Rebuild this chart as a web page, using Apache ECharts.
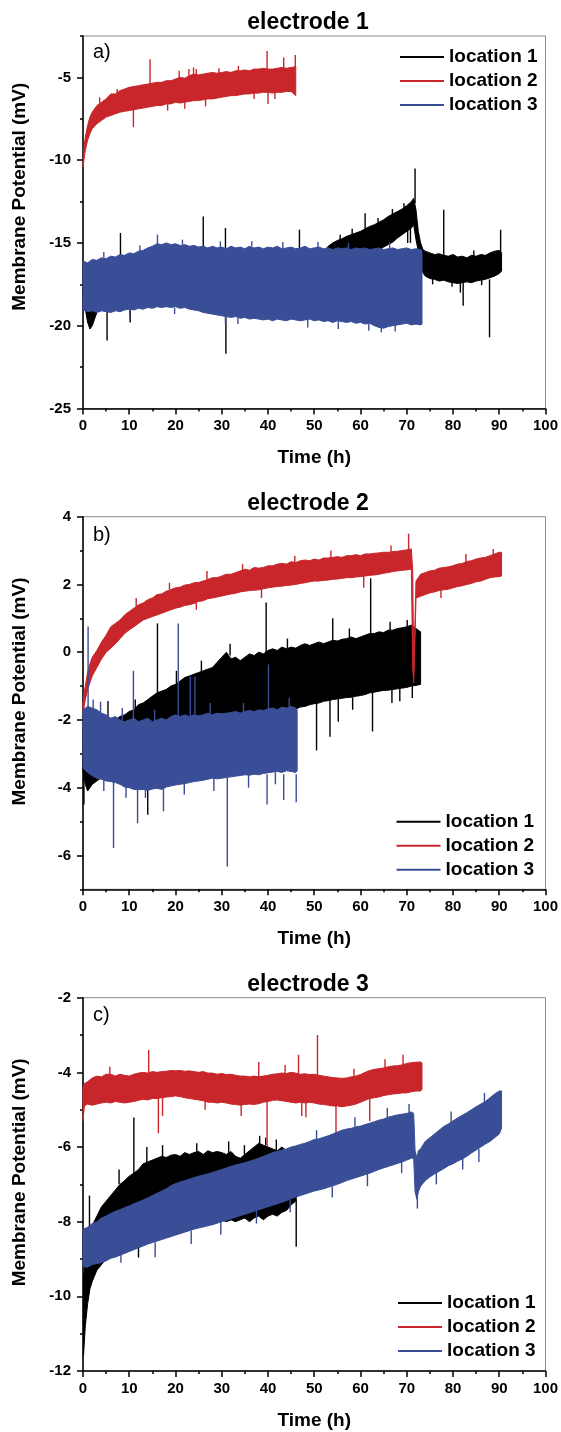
<!DOCTYPE html>
<html><head><meta charset="utf-8">
<script src="https://cdn.jsdelivr.net/npm/echarts@6/dist/echarts.min.js"></script>
<style>html,body{margin:0;padding:0;background:#fff}#c{width:561px;height:1432px}</style>
</head><body><div id="c"></div>
<script>
// ---------- DATA: each band is [time h, upper envelope mV, lower envelope mV] ----------
// spikes: [time h, base mV, tip mV]
const seriesNames = ['location 1', 'location 2', 'location 3'];
const panelTitles = ['electrode 1', 'electrode 2', 'electrode 3'];
const panelLetters = ['a)', 'b)', 'c)'];
const xTicks = [0, 10, 20, 30, 40, 50, 60, 70, 80, 90, 100];
const yRangeA = [-25, -2.5], yMajorA = [-25, -20, -15, -10, -5], yMinorA = [-22.5, -17.5, -12.5, -7.5, -2.5];
const yRangeB = [-7, 4], yMajorB = [-6, -4, -2, 0, 2, 4], yMinorB = [-7, -5, -3, -1, 1, 3];
const yRangeC = [-12, -2], yMajorC = [-12, -10, -8, -6, -4, -2], yMinorC = [-11, -9, -7, -5, -3];

// Panel a
const a1 = [[0,-17.5,-18.3],[0.5,-17.8,-19.0],[1,-18.0,-19.8],[1.5,-18.2,-20.2],[2,-18.0,-20.0],[2.5,-17.8,-19.6],[3,-17.5,-19.2],[4,-17.0,-18.9],[6,-16.8,-18.8],[8,-16.7,-18.8],[10,-16.7,-18.7],[15,-16.6,-18.6],[20,-16.5,-18.6],[25,-16.5,-18.7],[30,-16.5,-18.8],[35,-16.4,-18.8],[40,-16.3,-18.8],[45,-16.2,-18.8],[50,-16.0,-18.6],[52,-15.6,-17.5],[53,-15.2,-16.8],[54,-15.0,-16.6],[55,-14.85,-16.5],[56,-14.75,-16.4],[57,-14.6,-16.3],[58,-14.5,-16.2],[59,-14.4,-16.1],[60,-14.3,-16.0],[61,-14.15,-15.9],[62,-14.0,-15.7],[63,-13.9,-15.6],[64,-13.75,-15.45],[65,-13.6,-15.25],[66,-13.4,-15.1],[67,-13.25,-14.95],[68,-13.1,-14.7],[69,-12.95,-14.5],[70,-12.75,-14.3],[71,-12.5,-14.1],[71.5,-12.3,-13.9],[72,-13.0,-14.8],[72.5,-14.3,-15.5],[73,-15.0,-16.3],[73.5,-15.4,-16.8],[74,-15.5,-17.0],[75,-15.6,-17.15],[76,-15.7,-17.2],[77,-15.65,-17.3],[78,-15.75,-17.25],[79,-15.8,-17.35],[80,-15.7,-17.4],[81,-15.85,-17.45],[82,-15.8,-17.4],[83,-15.9,-17.35],[84,-15.75,-17.4],[85,-15.8,-17.3],[86,-15.7,-17.25],[87,-15.75,-17.2],[88,-15.6,-17.1],[89,-15.5,-17.0],[90,-15.45,-16.85],[90.5,-15.6,-16.7]];
const a1Spikes = [[5.2,-18.6,-20.9],[8.1,-16.8,-14.4],[10.2,-18.6,-19.8],[26,-16.6,-13.4],[30.8,-16.6,-14.1],[30.9,-18.6,-21.7],[46.8,-16.4,-14.2],[55.6,-14.8,-14.5],[58.2,-14.5,-14.15],[61,-14.5,-13.2],[63.8,-13.8,-13.5],[66.9,-13.3,-12.95],[69.4,-12.9,-12.6],[70.2,-14.0,-15.0],[70.8,-14.0,-15.0],[71.8,-12.6,-10.5],[75.6,-17.1,-17.5],[78,-15.9,-13.0],[79.8,-17.3,-17.65],[81.6,-17.2,-18.0],[82.2,-17.2,-18.8],[84.5,-15.8,-15.45],[86.2,-17.2,-17.55],[87.9,-17.2,-20.7],[90.3,-15.8,-14.2]];
const a2 = [[0,-10.0,-10.4],[0.25,-9.2,-9.9],[0.5,-8.6,-9.4],[1,-7.9,-8.8],[1.5,-7.4,-8.4],[2,-7.1,-8.1],[3,-6.7,-7.8],[4,-6.5,-7.6],[5,-6.3,-7.4],[6,-6.0,-7.3],[7,-6.0,-7.2],[8,-5.8,-7.1],[9,-5.7,-7.05],[10,-5.6,-7.0],[11,-5.55,-6.95],[12,-5.5,-6.9],[13,-5.45,-6.85],[14,-5.4,-6.8],[15,-5.35,-6.75],[16,-5.3,-6.7],[17,-5.3,-6.7],[18,-5.2,-6.6],[19,-5.2,-6.6],[20,-5.1,-6.5],[21,-5.0,-6.55],[22,-5.05,-6.5],[23,-4.9,-6.45],[24,-4.8,-6.4],[25,-4.85,-6.4],[26,-4.8,-6.35],[27,-4.75,-6.3],[28,-4.7,-6.3],[29,-4.75,-6.25],[30,-4.7,-6.2],[31,-4.65,-6.15],[32,-4.7,-6.1],[33,-4.6,-6.1],[34,-4.6,-6.05],[35,-4.55,-6.0],[36,-4.6,-6.0],[37,-4.5,-5.95],[38,-4.5,-5.95],[39,-4.45,-5.9],[40,-4.5,-5.9],[41,-4.5,-5.95],[42,-4.45,-5.9],[43,-4.4,-5.9],[44,-4.45,-5.85],[45,-4.4,-5.85],[46,-4.35,-6.1]];
const a2Spikes = [[3.6,-6.6,-6.2],[7.4,-6.0,-5.7],[10.9,-6.9,-8.0],[14.5,-5.5,-3.9],[18.3,-6.6,-7.0],[20.8,-5.1,-4.6],[22,-6.5,-6.9],[22.9,-5.0,-4.5],[23.9,-4.9,-4.4],[24.5,-4.9,-4.5],[26.5,-6.35,-6.75],[29.4,-4.75,-4.45],[33.6,-4.6,-4.3],[37,-5.95,-6.3],[39.8,-4.6,-3.4],[40.0,-5.8,-6.6],[41.5,-5.9,-6.3],[43.4,-4.5,-3.8],[45.9,-4.5,-3.65]];
const a3 = [[0,-16.1,-19.05],[1,-16.2,-19.15],[2,-16.0,-19.1],[3,-16.05,-19.2],[4,-15.9,-19.1],[5,-15.95,-19.15],[6,-15.8,-19.2],[7,-15.85,-19.1],[8,-15.7,-19.15],[9,-15.75,-19.05],[10,-15.6,-19.0],[11,-15.65,-19.05],[12,-15.5,-18.95],[13,-15.45,-19.0],[14,-15.3,-18.9],[15,-15.2,-18.95],[16,-15.05,-18.85],[17,-15.1,-18.9],[18,-15.0,-18.85],[19,-15.1,-18.9],[20,-15.05,-18.85],[21,-15.15,-18.95],[22,-15.1,-18.9],[23,-15.2,-19.0],[24,-15.15,-19.05],[25,-15.25,-19.1],[26,-15.2,-19.2],[27,-15.3,-19.25],[28,-15.2,-19.3],[29,-15.3,-19.35],[30,-15.25,-19.4],[31,-15.35,-19.45],[32,-15.2,-19.5],[33,-15.3,-19.45],[34,-15.25,-19.55],[35,-15.35,-19.5],[36,-15.2,-19.6],[37,-15.3,-19.55],[38,-15.25,-19.6],[39,-15.35,-19.65],[40,-15.25,-19.6],[41,-15.3,-19.7],[42,-15.2,-19.6],[43,-15.35,-19.65],[44,-15.3,-19.7],[45,-15.25,-19.6],[46,-15.35,-19.65],[47,-15.3,-19.7],[48,-15.2,-19.65],[49,-15.35,-19.6],[50,-15.3,-19.7],[51,-15.25,-19.65],[52,-15.35,-19.75],[53,-15.3,-19.7],[54,-15.4,-19.8],[55,-15.3,-19.7],[56,-15.35,-19.75],[57,-15.3,-19.8],[58,-15.4,-19.75],[59,-15.3,-19.85],[60,-15.35,-19.8],[61,-15.3,-19.9],[62,-15.4,-19.85],[63,-15.35,-20.0],[64,-15.3,-20.1],[65,-15.4,-20.15],[66,-15.35,-20.05],[67,-15.3,-20.0],[68,-15.4,-19.95],[69,-15.35,-19.9],[70,-15.3,-19.85],[71,-15.4,-19.95],[72,-15.35,-19.9],[73,-15.4,-19.95],[73.3,-15.5,-19.9]];
const a3Spikes = [[4.5,-15.9,-15.55],[10.1,-19.0,-19.5],[12.3,-15.5,-15.15],[16.1,-15.3,-14.5],[19.8,-18.9,-19.3],[21.5,-15.1,-14.8],[29.7,-15.3,-14.9],[30.8,-19.3,-19.9],[33.5,-19.5,-19.9],[36.5,-15.2,-14.9],[43.2,-15.3,-14.95],[48.6,-19.6,-20.1],[50.8,-15.3,-14.95],[55.2,-19.7,-20.2],[57.4,-15.3,-15.0],[61.8,-19.9,-20.3],[64.5,-19.9,-20.4],[66.3,-15.35,-14.95],[67.5,-20.0,-20.35]];

// Panel b
const b1 = [[0,-2.8,-3.5],[0.5,-2.8,-3.9],[1,-2.8,-4.1],[2,-2.7,-3.9],[3,-2.6,-3.8],[4,-2.5,-3.7],[5,-2.45,-3.6],[6,-2.3,-3.5],[7,-2.0,-3.4],[8,-1.9,-3.3],[9,-1.85,-3.2],[10,-1.75,-3.1],[11,-1.7,-3.0],[12,-1.55,-2.95],[13,-1.5,-2.9],[14,-1.4,-2.85],[15,-1.3,-2.8],[16,-1.2,-2.75],[17,-1.15,-2.7],[18,-1.1,-2.65],[19,-1.0,-2.6],[20,-0.95,-2.6],[21,-0.85,-2.55],[22,-0.75,-2.5],[23,-0.7,-2.45],[24,-0.65,-2.4],[25,-0.6,-2.4],[26,-0.55,-2.35],[27,-0.5,-2.3],[28,-0.45,-2.3],[29,-0.3,-2.25],[30,-0.15,-2.2],[31,0.0,-2.15],[32,-0.2,-2.1],[33,-0.15,-2.05],[34,-0.25,-2.0],[35,-0.15,-2.0],[36,-0.05,-1.95],[37,-0.1,-1.9],[38,0.0,-1.9],[39,-0.05,-1.85],[40,0.05,-1.85],[41,0.1,-1.8],[42,0.05,-1.8],[43,0.15,-1.75],[44,0.1,-1.75],[45,0.15,-1.7],[46,0.12,-1.68],[47,0.2,-1.62],[48,0.25,-1.6],[49,0.2,-1.55],[50,0.25,-1.52],[51,0.3,-1.5],[52,0.25,-1.45],[53,0.3,-1.43],[54,0.35,-1.4],[55,0.33,-1.38],[56,0.38,-1.36],[57,0.4,-1.34],[58,0.45,-1.33],[59,0.4,-1.3],[60,0.45,-1.28],[61,0.5,-1.25],[62,0.55,-1.2],[63,0.55,-1.18],[64,0.6,-1.15],[65,0.58,-1.13],[66,0.65,-1.12],[67,0.65,-1.1],[68,0.7,-1.08],[69,0.72,-1.06],[70,0.75,-1.04],[71,0.8,-1.0],[72,0.7,-0.98],[73,0.6,-0.95]];
const b1Spikes = [[0.2,-3.5,-4.5],[5.4,-2.5,-1.44],[11.3,-1.7,-1.4],[14,-2.8,-4.8],[16.1,-1.2,0.85],[20.2,-0.95,-0.55],[25.6,-0.6,-0.25],[31.8,-0.1,0.25],[39.6,-0.5,1.47],[44.2,0.1,0.4],[50.5,-1.4,-2.9],[53.4,-1.3,-2.5],[54,0,1.0],[55.2,-1.3,-2.05],[57.6,0.4,0.7],[58.3,-1.33,-1.7],[62.2,0,2.18],[62.6,-1.1,-2.34],[66.4,0.65,0.9],[66.8,-1.1,-1.5],[68.5,-1.08,-1.45],[70.1,0.75,0.95],[71.2,-0.9,-1.35]];
const b2 = [[0,-1.5,-1.8],[0.25,-1.2,-1.6],[0.5,-1.0,-1.4],[1,-0.6,-1.1],[1.5,-0.35,-0.9],[2,-0.15,-0.7],[3,0.05,-0.45],[4,0.3,-0.2],[5,0.5,0.0],[6,0.75,0.12],[7,0.85,0.25],[8,0.95,0.4],[9,1.1,0.55],[10,1.2,0.66],[11,1.3,0.75],[12,1.4,0.85],[13,1.45,0.95],[14,1.55,1.0],[15,1.6,1.05],[16,1.7,1.1],[17,1.72,1.15],[18,1.8,1.2],[19,1.85,1.25],[20,1.9,1.3],[21,1.92,1.33],[22,1.98,1.38],[23,2.0,1.4],[24,2.05,1.44],[25,2.06,1.5],[26,2.1,1.52],[27,2.15,1.58],[28,2.2,1.6],[29,2.2,1.63],[30,2.25,1.66],[31,2.3,1.69],[32,2.3,1.72],[33,2.35,1.74],[34,2.4,1.78],[35,2.45,1.8],[36,2.42,1.82],[37,2.5,1.83],[38,2.48,1.84],[39,2.5,1.87],[40,2.55,1.9],[41,2.55,1.92],[42,2.6,1.94],[43,2.62,1.95],[44,2.6,1.97],[45,2.67,1.98],[46,2.65,2.0],[47,2.7,2.03],[48,2.72,2.05],[49,2.7,2.08],[50,2.75,2.1],[51,2.72,2.1],[52,2.78,2.12],[53,2.78,2.13],[54,2.8,2.15],[55,2.82,2.16],[56,2.8,2.18],[57,2.85,2.2],[58,2.85,2.2],[59,2.88,2.22],[60,2.85,2.23],[61,2.9,2.25],[62,2.9,2.27],[63,2.92,2.28],[64,2.93,2.3],[65,2.95,2.33],[66,2.95,2.35],[67,2.97,2.38],[68,2.98,2.4],[69,3.0,2.42],[70,3.02,2.43],[71,3.05,2.45],[71.3,2.4,-0.5],[71.5,-0.6,-0.9],[71.8,1.0,0.5],[72,2.1,1.6],[73,2.3,1.65],[74,2.35,1.7],[75,2.4,1.75],[76,2.42,1.78],[77,2.48,1.82],[78,2.5,1.84],[79,2.52,1.86],[80,2.55,1.9],[81,2.6,1.94],[82,2.62,1.96],[83,2.68,2.0],[84,2.7,2.03],[85,2.75,2.08],[86,2.78,2.1],[87,2.8,2.15],[88,2.85,2.2],[89,2.9,2.22],[90,2.95,2.23],[90.5,2.95,2.25]];
const b2Spikes = [[11.5,1.35,1.6],[18.7,1.85,2.05],[24.5,1.45,1.25],[26.8,2.15,2.4],[34.5,2.4,2.6],[38.6,1.85,1.6],[45.8,2.65,2.85],[53.6,2.8,3.0],[60.7,2.3,1.9],[66.6,2.97,3.15],[70.4,3.0,3.5],[77.4,1.82,1.6],[82.8,2.65,2.9],[88.7,2.88,3.05]];
const b3 = [[0,-1.7,-3.42],[1,-1.6,-3.55],[2,-1.65,-3.65],[3,-1.7,-3.72],[4,-1.8,-3.75],[5,-1.85,-3.8],[6,-1.95,-3.82],[7,-1.9,-3.85],[8,-2.0,-3.9],[9,-2.05,-3.98],[10,-2.0,-4.0],[11,-1.95,-4.05],[12,-2.05,-4.06],[13,-2.0,-4.05],[14,-1.95,-4.08],[15,-2.05,-4.04],[16,-2.0,-4.02],[17,-1.95,-4.05],[18,-2.0,-3.98],[19,-1.9,-3.95],[20,-1.85,-3.92],[21,-1.9,-3.9],[22,-1.85,-3.88],[23,-1.9,-3.85],[24,-1.85,-3.82],[25,-1.88,-3.8],[26,-1.85,-3.78],[27,-1.8,-3.75],[28,-1.85,-3.72],[29,-1.8,-3.74],[30,-1.82,-3.72],[31,-1.8,-3.7],[32,-1.78,-3.68],[33,-1.75,-3.66],[34,-1.8,-3.64],[35,-1.75,-3.62],[36,-1.72,-3.63],[37,-1.75,-3.6],[38,-1.7,-3.62],[39,-1.72,-3.58],[40,-1.68,-3.56],[41,-1.65,-3.54],[42,-1.7,-3.52],[43,-1.62,-3.55],[44,-1.65,-3.5],[45,-1.6,-3.52],[46,-1.65,-3.55],[46.3,-1.7,-3.5]];
const b3Spikes = [[1.1,-2,0.76],[2.2,-1.65,-1.4],[3.8,-2,-1.46],[4.5,-3.75,-4.1],[6.6,-3.6,-5.78],[8.5,-2.0,-1.65],[9.3,-3.98,-4.3],[10.9,-2,-0.55],[11.8,-3.6,-5.05],[13.5,-4.05,-4.3],[15.5,-2.05,-1.7],[17.4,-3.6,-4.7],[20.6,-2,0.85],[21.9,-3.88,-4.2],[23.2,-2,-0.72],[24.2,-2,-0.72],[27.5,-1.8,-1.5],[28.3,-3.72,-4.1],[31.2,-3.6,-6.33],[34.7,-1.8,-1.5],[35.8,-3.62,-4.0],[39.8,-3.6,-4.5],[40.1,-2,-0.36],[41.6,-3.54,-3.9],[43.4,-3.6,-4.36],[44.6,-1.65,-1.35],[46.1,-3.6,-4.43]];

// Panel c
const c1 = [[0.1,-9.5,-11.6],[0.5,-9.0,-10.8],[1,-8.6,-10.2],[1.5,-8.3,-9.8],[2,-8.1,-9.6],[3,-7.85,-9.3],[4,-7.6,-9.15],[5,-7.45,-9.0],[6,-7.3,-8.9],[7,-7.15,-8.8],[8,-7.0,-8.7],[9,-6.9,-8.6],[10,-6.78,-8.5],[11,-6.7,-8.45],[12,-6.6,-8.4],[13,-6.45,-8.3],[14,-6.4,-8.25],[15,-6.35,-8.2],[16,-6.3,-8.15],[17,-6.25,-8.1],[18,-6.28,-8.05],[19,-6.22,-8.0],[20,-6.2,-7.95],[21,-6.25,-7.95],[22,-6.15,-7.9],[23,-6.2,-7.9],[24,-6.15,-7.85],[25,-6.12,-7.85],[26,-6.2,-7.85],[27,-6.1,-7.85],[28,-6.15,-7.9],[29,-6.12,-7.9],[30,-6.15,-7.95],[31,-6.2,-8.0],[32,-6.12,-7.95],[33,-6.25,-8.0],[34,-6.3,-7.95],[35,-6.2,-7.9],[36,-6.1,-8.0],[37,-6.0,-7.9],[38,-5.9,-7.85],[39,-5.95,-7.95],[40,-6.0,-7.85],[41,-6.05,-7.8],[42,-6.1,-7.85],[43,-6.0,-7.75],[44,-6.1,-7.7],[45,-6.2,-7.55],[46,-6.3,-7.45],[46.2,-6.5,-7.3]];
const c1Spikes = [[1.4,-8.3,-7.3],[7.8,-7.0,-6.6],[11,-6.8,-5.21],[12,-8.4,-8.96],[13.8,-6.4,-6.0],[17.2,-6.25,-5.95],[24.6,-6.15,-5.9],[31.5,-6.2,-5.85],[34.9,-6.2,-5.95],[38.2,-6.0,-5.7],[39.5,-5.95,-5.75],[41.8,-6.1,-5.8],[46.1,-7.4,-8.67]];
const c2 = [[0,-4.4,-5.3],[0.3,-4.3,-4.9],[1,-4.25,-4.85],[2,-4.15,-4.88],[3,-4.1,-4.85],[4,-4.12,-4.82],[5,-4.05,-4.8],[6,-4.05,-4.82],[7,-4.1,-4.78],[8,-4.05,-4.8],[9,-4.08,-4.82],[10,-4.1,-4.8],[11,-4.05,-4.78],[12,-4.02,-4.75],[13,-4.0,-4.72],[14,-4.02,-4.74],[15,-3.98,-4.7],[16,-4.0,-4.7],[17,-3.98,-4.68],[18,-3.97,-4.66],[19,-3.95,-4.65],[20,-3.96,-4.63],[21,-3.95,-4.65],[22,-3.97,-4.68],[23,-3.96,-4.7],[24,-3.98,-4.72],[25,-4.0,-4.74],[26,-3.98,-4.76],[27,-4.02,-4.8],[28,-4.02,-4.8],[29,-4.05,-4.82],[30,-4.03,-4.8],[31,-4.06,-4.82],[32,-4.05,-4.85],[33,-4.08,-4.86],[34,-4.1,-4.88],[35,-4.1,-4.86],[36,-4.12,-4.85],[37,-4.1,-4.86],[38,-4.12,-4.84],[39,-4.1,-4.8],[40,-4.08,-4.78],[41,-4.05,-4.75],[42,-4.04,-4.74],[43,-4.02,-4.76],[44,-4.03,-4.78],[45,-4.0,-4.8],[46,-4.02,-4.82],[47,-4.05,-4.8],[48,-4.04,-4.82],[49,-4.06,-4.8],[50,-4.05,-4.82],[51,-4.08,-4.85],[52,-4.1,-4.86],[53,-4.12,-4.88],[54,-4.14,-4.9],[55,-4.15,-4.9],[56,-4.16,-4.92],[57,-4.15,-4.9],[58,-4.12,-4.88],[59,-4.1,-4.85],[60,-4.06,-4.8],[61,-4.0,-4.75],[62,-3.95,-4.7],[63,-3.92,-4.68],[64,-3.9,-4.66],[65,-3.88,-4.62],[66,-3.85,-4.6],[67,-3.83,-4.58],[68,-3.82,-4.57],[69,-3.8,-4.55],[70,-3.76,-4.55],[71,-3.74,-4.52],[72,-3.73,-4.5],[73,-3.72,-4.5],[73.3,-3.75,-4.45]];
const c2Spikes = [[5.8,-4.05,-3.85],[14.2,-4.3,-3.4],[16.3,-4.6,-5.63],[17.2,-4.6,-5.17],[26.4,-4.76,-5.0],[34.2,-4.6,-5.17],[38,-4.3,-3.72],[39.8,-4.6,-5.97],[43.7,-4.3,-3.8],[46.6,-4.3,-3.53],[47.3,-4.6,-5.17],[48.2,-4.6,-5.2],[50.7,-4.3,-3.0],[54.7,-4.6,-5.63],[58.6,-4.12,-3.9],[62,-4.5,-5.3],[65.3,-3.88,-3.65],[69.2,-4.0,-3.53]];
const c3 = [[0,-8.2,-9.2],[1,-8.15,-9.22],[2,-8.05,-9.15],[3,-8.0,-9.12],[4,-7.9,-9.1],[5,-7.85,-9.05],[6,-7.78,-8.98],[7,-7.72,-8.95],[8,-7.68,-8.9],[9,-7.62,-8.85],[10,-7.58,-8.8],[11,-7.52,-8.75],[12,-7.47,-8.7],[13,-7.42,-8.65],[14,-7.36,-8.6],[15,-7.3,-8.56],[16,-7.24,-8.52],[17,-7.18,-8.48],[18,-7.12,-8.44],[19,-7.04,-8.4],[20,-6.98,-8.36],[21,-6.94,-8.32],[22,-6.9,-8.28],[23,-6.86,-8.24],[24,-6.82,-8.2],[25,-6.78,-8.17],[26,-6.75,-8.14],[27,-6.72,-8.11],[28,-6.68,-8.08],[29,-6.64,-8.04],[30,-6.6,-8.0],[31,-6.56,-7.96],[32,-6.52,-7.92],[33,-6.48,-7.88],[34,-6.45,-7.84],[35,-6.42,-7.8],[36,-6.38,-7.76],[37,-6.34,-7.72],[38,-6.3,-7.68],[39,-6.25,-7.64],[40,-6.2,-7.6],[41,-6.15,-7.56],[42,-6.12,-7.52],[43,-6.08,-7.48],[44,-6.05,-7.44],[45,-6.0,-7.38],[46,-5.97,-7.34],[47,-5.93,-7.3],[48,-5.9,-7.26],[49,-5.85,-7.22],[50,-5.8,-7.18],[51,-5.78,-7.15],[52,-5.74,-7.12],[53,-5.7,-7.08],[54,-5.65,-7.04],[55,-5.6,-7.0],[56,-5.55,-6.95],[57,-5.52,-6.9],[58,-5.5,-6.86],[59,-5.46,-6.82],[60,-5.44,-6.78],[61,-5.4,-6.74],[62,-5.36,-6.7],[63,-5.32,-6.65],[64,-5.28,-6.6],[65,-5.25,-6.56],[66,-5.2,-6.52],[67,-5.17,-6.48],[68,-5.14,-6.44],[69,-5.12,-6.4],[70,-5.1,-6.35],[71,-5.06,-6.3],[71.5,-5.1,-6.3],[71.8,-6.1,-7.2],[72.2,-6.3,-7.4],[72.5,-6.1,-7.2],[73,-6.05,-7.05],[74,-5.85,-6.9],[75,-5.75,-6.8],[76,-5.65,-6.72],[77,-5.55,-6.65],[78,-5.45,-6.58],[79,-5.38,-6.5],[80,-5.3,-6.45],[81,-5.22,-6.38],[82,-5.15,-6.32],[83,-5.08,-6.25],[84,-5.0,-6.16],[85,-4.92,-6.08],[86,-4.85,-6.0],[87,-4.78,-5.92],[88,-4.68,-5.85],[89,-4.58,-5.75],[90,-4.5,-5.65],[90.5,-4.5,-5.5]];
const c3Spikes = [[8.2,-8.6,-9.1],[15.6,-8.55,-8.95],[23.4,-8.24,-8.6],[29.8,-8.0,-8.35],[37.5,-7.7,-8.05],[44.8,-7.4,-7.75],[50.5,-5.8,-5.55],[53.9,-7.05,-7.35],[58.8,-5.46,-5.2],[61.5,-6.72,-7.05],[65.8,-5.2,-4.95],[68.9,-6.4,-6.7],[70.5,-5.08,-4.85],[72.3,-7.0,-7.65],[76.4,-6.66,-7.0],[79.6,-5.35,-5.05],[82.1,-6.2,-6.6],[85.6,-6.05,-6.4],[86.8,-4.8,-4.55]];

// ---------- STYLE ----------
const FONT = "'Liberation Sans', Arial, Helvetica, sans-serif";
const COLORS = { 'location 1': '#000000', 'location 2': '#c8262b', 'location 3': '#3a4d97' };

const panels = [
  { top: 36, height: 372.5, range: yRangeA, major: yMajorA, minor: yMinorA, titleTop: 11, letterTop: 42, namePad: 51,
    legend: [400, 45], order: [['location 1', a1, a1Spikes], ['location 3', a3, a3Spikes], ['location 2', a2, a2Spikes]] },
  { top: 516.7, height: 372.6, range: yRangeB, major: yMajorB, minor: yMinorB, titleTop: 492, letterTop: 525, namePad: 23,
    legend: [396.5, 809.7], order: [['location 1', b1, b1Spikes], ['location 2', b2, b2Spikes], ['location 3', b3, b3Spikes]] },
  { top: 997.7, height: 373.3, range: yRangeC, major: yMajorC, minor: yMinorC, titleTop: 973.5, letterTop: 1005.5, namePad: 24,
    legend: [398, 1291], order: [['location 1', c1, c1Spikes], ['location 2', c2, c2Spikes], ['location 3', c3, c3Spikes]] }
];

function bandSeries(name, data, gi) {
  const color = COLORS[name];
  return {
    type: 'custom', name, coordinateSystem: 'cartesian2d',
    xAxisIndex: gi, yAxisIndex: gi * 2, data, encode: { x: 0, y: [1, 2] },
    itemStyle: { color }, silent: true, animation: false,
    renderItem(params, api) {
      if (params.dataIndex !== 0) return null;
      const top = data.map(d => api.coord([d[0], d[1]]));
      const bot = data.map(d => api.coord([d[0], d[2]])).reverse();
      return { type: 'polygon', shape: { points: top.concat(bot) },
               style: { fill: color, stroke: color, lineWidth: 1 } };
    }
  };
}
function spikeSeries(name, data, gi) {
  const color = COLORS[name];
  return {
    type: 'custom', name, coordinateSystem: 'cartesian2d',
    xAxisIndex: gi, yAxisIndex: gi * 2, data, encode: { x: 0, y: [1, 2] },
    itemStyle: { color }, silent: true, animation: false,
    renderItem(params, api) {
      const p1 = api.coord([api.value(0), api.value(1)]);
      const p2 = api.coord([api.value(0), api.value(2)]);
      return { type: 'line', shape: { x1: p1[0], y1: p1[1], x2: p2[0], y2: p2[1] },
               style: { stroke: color, lineWidth: 1.4 } };
    }
  };
}

const grid = [], xAxis = [], yAxis = [], series = [], legend = [], title = [];
panels.forEach((p, i) => {
  grid.push({ left: 83, top: p.top, width: 464, height: p.height, show: true,
              borderColor: '#8a8a8a', borderWidth: 1, containLabel: false });
  xAxis.push({
    type: 'value', gridIndex: i, min: 0, max: 100, interval: 10,
    axisLine: { show: true, onZero: false, lineStyle: { color: '#000', width: 1.5 } },
    axisTick: { show: true, length: 6, lineStyle: { color: '#000', width: 1.5 } },
    minorTick: { show: true, splitNumber: 2, length: 3, lineStyle: { color: '#000', width: 1.5 } },
    splitLine: { show: false },
    axisLabel: { color: '#000', fontSize: 15, fontWeight: 'bold', fontFamily: FONT, margin: 10, customValues: xTicks },
    name: 'Time (h)', nameLocation: 'middle', nameGap: 40,
    nameTextStyle: { color: '#000', fontSize: 19, fontWeight: 'bold', fontFamily: FONT }
  });
  yAxis.push({
    type: 'value', gridIndex: i, min: p.range[0], max: p.range[1], position: 'left',
    axisLine: { show: true, onZero: false, lineStyle: { color: '#000', width: 1.5 } },
    axisTick: { show: true, length: 6, customValues: p.major, lineStyle: { color: '#000', width: 1.5 } },
    splitLine: { show: false },
    axisLabel: { color: '#000', fontSize: 15, fontWeight: 'bold', fontFamily: FONT, margin: 12, customValues: p.major },
    name: 'Membrane Potential (mV)', nameLocation: 'middle', nameGap: 54,
    nameTextStyle: { color: '#000', fontSize: 19, fontWeight: 'bold', fontFamily: FONT, padding: [0, 0, 0, p.namePad] }
  });
  yAxis.push({
    type: 'value', gridIndex: i, min: p.range[0], max: p.range[1], position: 'left', offset: 0,
    axisLine: { show: false },
    axisTick: { show: true, length: 3, customValues: p.minor, lineStyle: { color: '#000', width: 1.5 } },
    splitLine: { show: false }, axisLabel: { show: false }
  });
  p.order.forEach(([name, band, spikes]) => {
    series.push(bandSeries(name, band, i));
    series.push(spikeSeries(name, spikes, i));
  });
  legend.push({
    left: p.legend[0], top: p.legend[1], orient: 'vertical', padding: 0,
    itemWidth: 44, itemHeight: 2, itemGap: 0, icon: 'rect', selectedMode: false,
    textStyle: { color: '#000', fontSize: 19, fontWeight: 'bold', fontFamily: FONT, lineHeight: 24 },
    data: seriesNames.map(n => ({ name: n, itemStyle: { color: COLORS[n] } }))
  });
  title.push({ text: panelTitles[i], left: 308, top: p.titleTop, textAlign: 'center', padding: 0,
               textStyle: { color: '#000', fontSize: 23, fontWeight: 'bold', fontFamily: FONT } });
  title.push({ text: panelLetters[i], left: 93, top: p.letterTop, padding: 0,
               textStyle: { color: '#000', fontSize: 20, fontWeight: 'normal', fontFamily: FONT } });
});

const chart = echarts.init(document.getElementById('c'), null, { renderer: 'canvas' });
chart.setOption({ animation: false, backgroundColor: '#fff', title, grid, xAxis, yAxis, legend, series });
</script></body></html>
